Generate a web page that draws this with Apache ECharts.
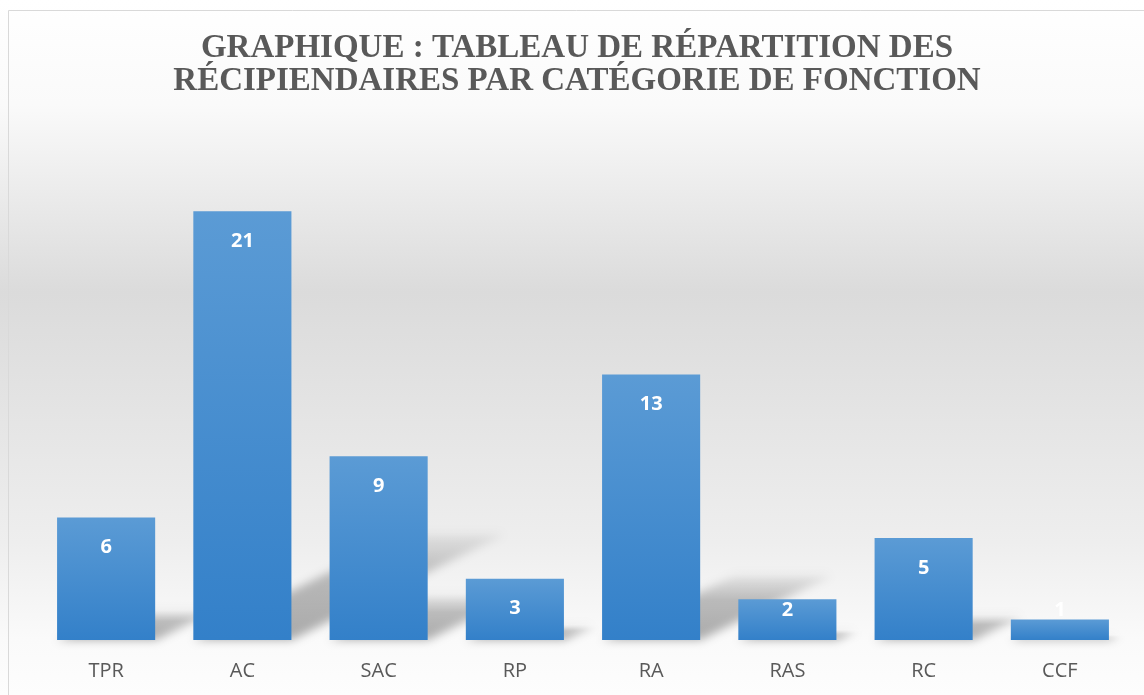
<!DOCTYPE html>
<html lang="fr">
<head>
    <meta charset="UTF-8">
    <title>Répartition des récipiendaires</title>
    <script src="https://cdn.jsdelivr.net/npm/echarts@6/dist/echarts.min.js"></script>
    <style>
        html, body { margin: 0; padding: 0; background: #fff; }
        #chart { width: 1144px; height: 695px; }
    </style>
</head>
<body>
<div id="chart"></div>
<script>
    // données
    var categories = ['TPR', 'AC', 'SAC', 'RP', 'RA', 'RAS', 'RC', 'CCF'];
    var effectifs = [6, 21, 9, 3, 13, 2, 5, 1];
    var titre = 'GRAPHIQUE : TABLEAU DE RÉPARTITION DES\nRÉCIPIENDAIRES PAR CATÉGORIE DE FONCTION';

    var myChart = echarts.init(document.getElementById('chart'));

    // petites barres : étiquette calée depuis la base (comme Excel)
    var barData = effectifs.map(function (v) {
        return v <= 2 ? {value: v, label: {position: 'insideBottom'}} : v;
    });

    // ombre en perspective derrière chaque barre
    // (forme dessinée hors champ, seule son ombre floue revient dans le graphique)
    var OFF = 3000;
    function renderShadow(params, api) {
        var top = api.coord([api.value(0), api.value(1)]);
        var base = api.coord([api.value(0), 0]);
        var w = api.size([1, 0])[0] * 0.72;
        var h = base[1] - top[1];
        var dy = h * 0.25, dx = h * 0.5;
        var x0 = base[0] - w / 2 - OFF, x1 = base[0] + w / 2 - OFF, y0 = base[1];
        return {
            type: 'polygon',
            shape: {points: [[x0, y0], [x1, y0], [x1 + dx, y0 - dy], [x0 + dx, y0 - dy]]},
            style: {
                fill: new echarts.graphic.LinearGradient(0, 1, 0, 0, [
                    {offset: 0, color: 'rgba(0,0,0,1)'},
                    {offset: 0.6, color: 'rgba(0,0,0,0.75)'},
                    {offset: 1, color: 'rgba(0,0,0,0.15)'}
                ]),
                shadowBlur: 10,
                shadowOffsetX: OFF,
                shadowColor: 'rgba(0,0,0,0.32)'
            }
        };
    }

    var option = {
        backgroundColor: new echarts.graphic.LinearGradient(0, 0, 0, 1, [
            {offset: 0, color: '#ffffff'},
            {offset: 0.15, color: '#fafafa'},
            {offset: 0.42, color: '#dbdbdb'},
            {offset: 0.78, color: '#eeeeee'},
            {offset: 0.92, color: '#fafafa'},
            {offset: 1, color: '#fdfdfd'}
        ]),
        animation: false,
        title: {
            text: titre,
            left: 572,
            top: 27,
            textAlign: 'center',
            textStyle: {
                fontFamily: 'Liberation Serif',
                fontWeight: 'bold',
                fontSize: 33,
                lineHeight: 33,
                color: '#595959'
            }
        },
        graphic: [{
            type: 'rect',
            shape: {x: 8.5, y: 10.5, width: 1200, height: 700},
            style: {fill: 'none', stroke: '#d9d9d9', lineWidth: 1},
            silent: true
        }],
        grid: {left: 38, right: 16, top: 150, bottom: 55},
        xAxis: {
            type: 'category',
            data: categories,
            axisLine: {show: false},
            axisTick: {show: false},
            axisLabel: {
                margin: 21,
                fontSize: 20,
                fontFamily: 'Open Sans',
                color: '#595959'
            }
        },
        yAxis: {
            type: 'value',
            min: 0,
            max: 24,
            show: false
        },
        series: [
            {
                type: 'custom',
                renderItem: renderShadow,
                data: effectifs.map(function (v, i) { return [i, v]; }),
                z: 1,
                silent: true
            },
            {
                type: 'bar',
                data: barData,
                barWidth: '72%',
                z: 2,
                itemStyle: {
                    color: new echarts.graphic.LinearGradient(0, 0, 0, 1, [
                        {offset: 0, color: '#5b9bd5'},
                        {offset: 1, color: '#3380c9'}
                    ])
                },
                label: {
                    show: true,
                    position: 'insideTop',
                    distance: 20,
                    color: '#ffffff',
                    fontWeight: 'bold',
                    fontSize: 20,
                    fontFamily: 'Open Sans'
                }
            }
        ]
    };
    myChart.setOption(option);
</script>
</body>
</html>
